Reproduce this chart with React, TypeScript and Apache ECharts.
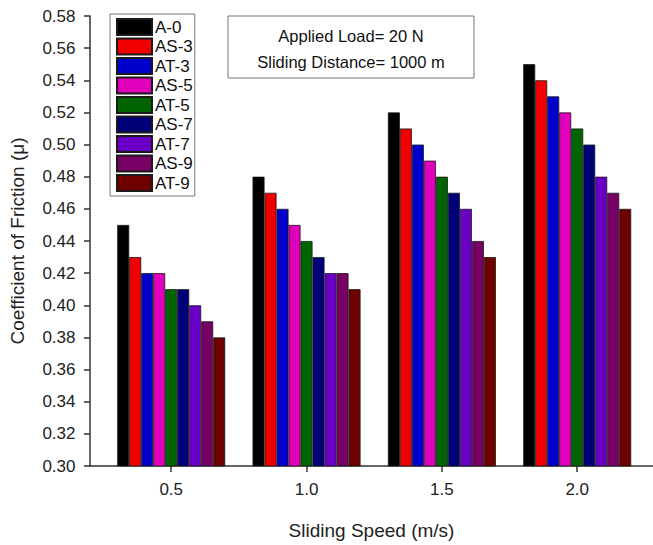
import React, { useEffect, useRef } from "react";
import * as echarts from "echarts";

const speeds = [0.5, 1.0, 1.5, 2.0];
const seriesNames = ["A-0", "AS-3", "AT-3", "AS-5", "AT-5", "AS-7", "AT-7", "AS-9", "AT-9"];
const seriesColors = ["#000000", "#f00000", "#0000cc", "#e000bb", "#006400", "#000078", "#6a00c8", "#760064", "#6e0000"];
const A0 = [0.45, 0.48, 0.52, 0.55];
const AS3 = [0.43, 0.47, 0.51, 0.54];
const AT3 = [0.42, 0.46, 0.50, 0.53];
const AS5 = [0.42, 0.45, 0.49, 0.52];
const AT5 = [0.41, 0.44, 0.48, 0.51];
const AS7 = [0.41, 0.43, 0.47, 0.50];
const AT7 = [0.40, 0.42, 0.46, 0.48];
const AS9 = [0.39, 0.42, 0.44, 0.47];
const AT9 = [0.38, 0.41, 0.43, 0.46];
const seriesValues = [A0, AS3, AT3, AS5, AT5, AS7, AT7, AS9, AT9];
const xTickValues = [0.5, 1.0, 1.5, 2.0];
const annotationLines = ["Applied Load= 20 N", "Sliding Distance= 1000 m"];

const FONT = "Liberation Sans, Arial, Helvetica, sans-serif";

export default function App() {
  const ref = useRef<HTMLDivElement>(null);
  useEffect(() => {
    if (!ref.current) return;
    const chart = echarts.init(ref.current, undefined, { renderer: "svg" });
    chart.setOption({
      animation: false,
      backgroundColor: "#ffffff",
      textStyle: { fontFamily: FONT },
      grid: { left: 89.5, right: 0, top: 16, bottom: 70, containLabel: false },
      legend: {
        orient: "vertical",
        left: 110,
        top: 14,
        icon: "rect",
        itemWidth: 35,
        itemHeight: 16,
        itemGap: 1.5,
        padding: [4, 2, 4, 6],
        borderColor: "#777",
        borderWidth: 1,
        data: seriesNames,
        textStyle: { fontFamily: FONT, fontSize: 17, lineHeight: 16, color: "#111", padding: [0, 0, 0, -2] },
      },
      xAxis: {
        type: "value",
        min: 0.2,
        max: 2.28,
        name: "Sliding Speed (m/s)",
        nameLocation: "middle",
        nameGap: 55,
        nameTextStyle: { fontFamily: FONT, fontSize: 19, color: "#222" },
        axisLine: { show: true, lineStyle: { color: "#333", width: 1.5 } },
        axisTick: { show: true, customValues: xTickValues, length: 6, lineStyle: { color: "#333", width: 1.5 } },
        axisLabel: {
          customValues: xTickValues,
          formatter: (v: number) => v.toFixed(1),
          fontFamily: FONT,
          fontSize: 17,
          color: "#222",
          margin: 15,
        },
        splitLine: { show: false },
      },
      yAxis: {
        type: "value",
        min: 0.3,
        max: 0.58,
        interval: 0.02,
        name: "Coefficient of Friction (\u03bc)",
        nameLocation: "middle",
        nameGap: 63,
        nameTextStyle: { fontFamily: FONT, fontSize: 19, color: "#222" },
        axisLine: { show: true, lineStyle: { color: "#333", width: 1.5 } },
        axisTick: { show: true, inside: false, length: 6, lineStyle: { color: "#333", width: 1.5 } },
        axisLabel: {
          formatter: (v: number) => v.toFixed(2),
          fontFamily: FONT,
          fontSize: 17,
          color: "#222",
          margin: 14.5,
        },
        splitLine: { show: false },
      },
      graphic: [
        {
          type: "rect",
          shape: { x: 228, y: 16, width: 246, height: 62 },
          style: { fill: "#fff", stroke: "#777", lineWidth: 1 },
        },
        {
          type: "text",
          x: 351,
          y: 36,
          style: { text: annotationLines[0], fontFamily: FONT, fontSize: 16.5, fill: "#111", align: "center", verticalAlign: "middle" },
        },
        {
          type: "text",
          x: 351,
          y: 62,
          style: { text: annotationLines[1], fontFamily: FONT, fontSize: 16.5, fill: "#111", align: "center", verticalAlign: "middle" },
        },
      ],
      series: seriesNames.map((name, i) => ({
        name,
        type: "bar",
        barWidth: 12,
        barGap: "0%",
        itemStyle: { color: seriesColors[i], borderColor: "#1a1a1a", borderWidth: 0.8 },
        data: speeds.map((s, j) => [s, seriesValues[i][j]]),
      })),
    });
    return () => chart.dispose();
  }, []);
  return <div ref={ref} style={{ position: "fixed", left: 0, top: 0, width: 653, height: 545 }} />;
}
